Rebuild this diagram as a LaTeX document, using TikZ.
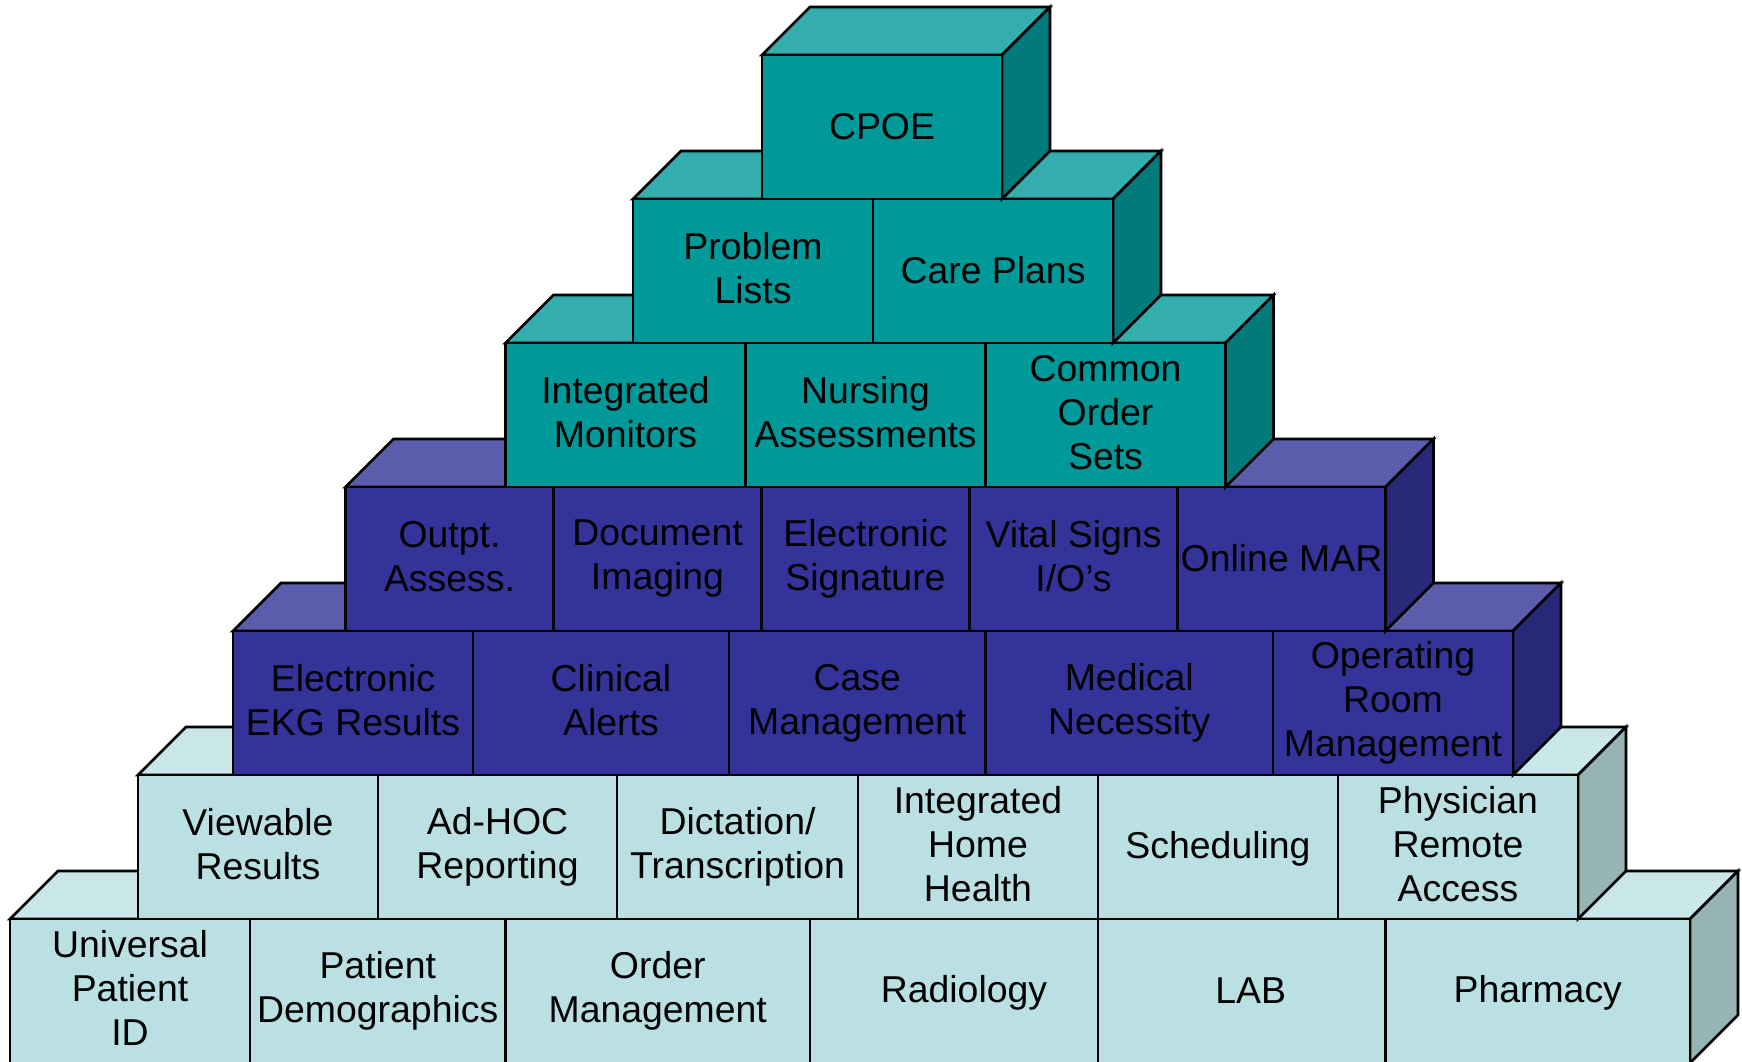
\documentclass[tikz,border=0pt]{standalone}
\usepackage{fontspec}
\setmainfont{Liberation Sans}
\definecolor{paleFront}{HTML}{BBE0E3}
\definecolor{paleTop}{HTML}{C9E6E9}
\definecolor{paleSide}{HTML}{96B3B6}
\definecolor{navyFront}{HTML}{333399}
\definecolor{navyTop}{HTML}{5C5CAD}
\definecolor{navySide}{HTML}{29297A}
\definecolor{tealFront}{HTML}{009999}
\definecolor{tealTop}{HTML}{33ADAD}
\definecolor{tealSide}{HTML}{007A7A}
\newcommand{\cellstrut}{\rule[-5.5pt]{0pt}{36.5pt}}

\begin{document}
\begin{tikzpicture}[x=1pt,y=-1pt,
    face/.style={draw, line width=2.6pt, line join=miter},
    cell/.style={draw, line width=2.6pt, align=center, inner sep=0pt,
        minimum height=144pt, font=\fontsize{37.4}{44}\selectfont,
        execute at begin node=\cellstrut, execute at end node=\cellstrut},
    nudge/.style={execute at begin node=\hspace*{#1}},
    pale/.style={cell, fill=paleFront},
    navy/.style={cell, fill=navyFront},
    teal/.style={cell, fill=tealFront}]
    \useasboundingbox (0,0) rectangle (1742,1062);

    % bottom row
    \filldraw[face, fill=paleTop] (10,919) -- (58,871) -- (1738,871) -- (1690,919) -- cycle;
    \filldraw[face, fill=paleSide] (1690,919) -- (1738,871) -- (1738,1015) -- (1690,1063) -- cycle;
    \node[pale, minimum width=240pt] (upid) at (130,991) {Universal\\Patient\\ID};
    \node[pale, minimum width=255.5pt] (demog) at (377.75,991) {Patient\\Demographics};
    \node[pale, minimum width=304.5pt] (ordmgmt) at (657.75,991) {Order\\Management};
    \node[pale, minimum width=288pt, nudge=20pt] (radiology) at (954,991) {Radiology};
    \node[pale, minimum width=287.5pt, nudge=18pt] (lab) at (1241.75,991) {LAB};
    \node[pale, minimum width=304.5pt] (pharmacy) at (1537.75,991) {Pharmacy};

    % second row
    \filldraw[face, fill=paleTop] (138,775) -- (186,727) -- (1626,727) -- (1578,775) -- cycle;
    \filldraw[face, fill=paleSide] (1578,775) -- (1626,727) -- (1626,871) -- (1578,919) -- cycle;
    \node[pale, minimum width=240pt] (viewable) at (258,847) {Viewable\\Results};
    \node[pale, minimum width=239pt] (adhoc) at (497.5,847) {Ad-HOC\\Reporting};
    \node[pale, minimum width=241pt] (dictation) at (737.5,847) {Dictation/\\Transcription};
    \node[pale, minimum width=240pt] (homehealth) at (978,847) {Integrated\\Home\\Health};
    \node[pale, minimum width=240pt] (scheduling) at (1218,847) {Scheduling};
    \node[pale, minimum width=240pt] (remote) at (1458,847) {Physician\\Remote\\Access};

    % third row
    \filldraw[face, fill=navyTop] (233,631) -- (281,583) -- (1561,583) -- (1513,631) -- cycle;
    \filldraw[face, fill=navySide] (1513,631) -- (1561,583) -- (1561,727) -- (1513,775) -- cycle;
    \node[navy, minimum width=240pt] (ekg) at (353,703) {Electronic\\EKG Results};
    \node[navy, minimum width=256pt, nudge=20pt] (alerts) at (601,703) {Clinical\\Alerts};
    \node[navy, minimum width=256.5pt] (casemgmt) at (857.25,703) {Case\\Management};
    \node[navy, minimum width=287.5pt] (necessity) at (1129.25,703) {Medical\\Necessity};
    \node[navy, minimum width=240pt] (oproom) at (1393,703) {Operating\\Room\\Management};

    % fourth row
    \filldraw[face, fill=navyTop] (345.5,487) -- (393.5,439) -- (1433.5,439) -- (1385.5,487) -- cycle;
    \filldraw[face, fill=navySide] (1385.5,487) -- (1433.5,439) -- (1433.5,583) -- (1385.5,631) -- cycle;
    \node[navy, minimum width=208pt] (outpt) at (449.5,559) {Outpt.\\Assess.};
    \node[navy, minimum width=208pt] (imaging) at (657.5,559) {Document\\Imaging};
    \node[navy, minimum width=208pt] (signature) at (865.5,559) {Electronic\\Signature};
    \node[navy, minimum width=208pt] (vitals) at (1073.5,559) {Vital Signs\\I/O’s};
    \node[navy, minimum width=208pt] (mar) at (1281.5,559) {Online MAR};

    % fifth row
    \filldraw[face, fill=tealTop] (505.5,343) -- (553.5,295) -- (1273.5,295) -- (1225.5,343) -- cycle;
    \filldraw[face, fill=tealSide] (1225.5,343) -- (1273.5,295) -- (1273.5,439) -- (1225.5,487) -- cycle;
    \node[teal, minimum width=240pt] (monitors) at (625.5,415) {Integrated\\Monitors};
    \node[teal, minimum width=240pt] (nursing) at (865.5,415) {Nursing\\Assessments};
    \node[teal, minimum width=240pt] (ordersets) at (1105.5,415) {Common\\Order\\Sets};

    % sixth row
    \filldraw[face, fill=tealTop] (633,199) -- (681,151) -- (1161,151) -- (1113,199) -- cycle;
    \filldraw[face, fill=tealSide] (1113,199) -- (1161,151) -- (1161,295) -- (1113,343) -- cycle;
    \node[teal, minimum width=240pt] (problems) at (753,271) {Problem\\Lists};
    \node[teal, minimum width=240pt] (careplans) at (993,271) {Care Plans};

    % top block
    \filldraw[face, fill=tealTop] (762,55) -- (810,7) -- (1050,7) -- (1002,55) -- cycle;
    \filldraw[face, fill=tealSide] (1002,55) -- (1050,7) -- (1050,151) -- (1002,199) -- cycle;
    \node[teal, minimum width=240pt] (cpoe) at (882,127) {CPOE};
\end{tikzpicture}
\end{document}
